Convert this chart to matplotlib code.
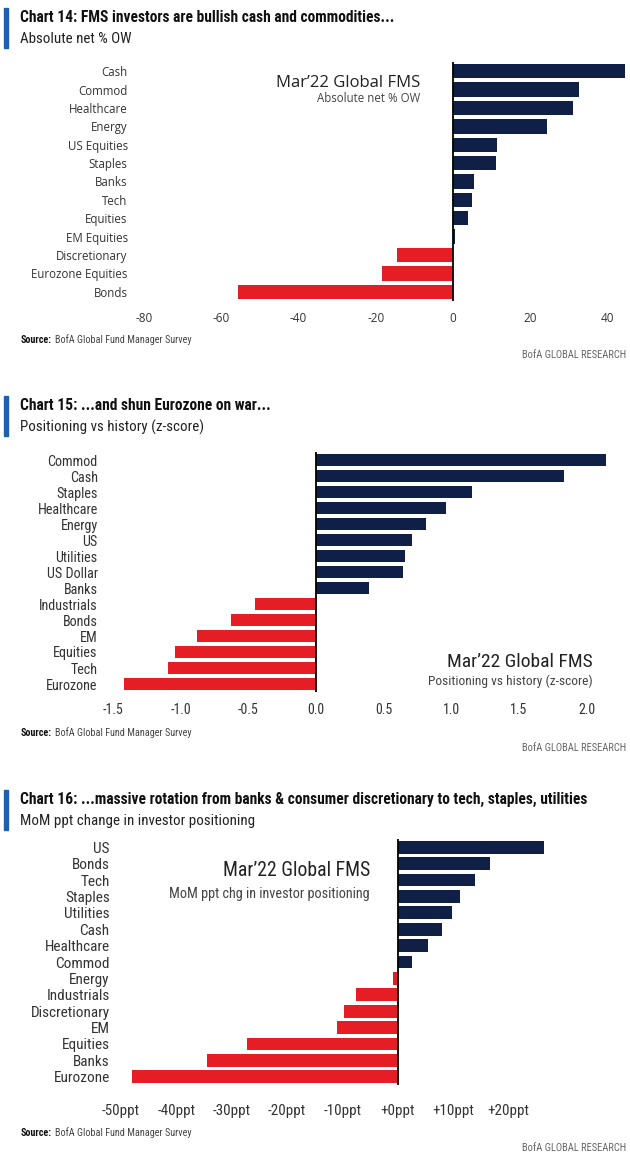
import numpy as np
import matplotlib
matplotlib.use("Agg")
import matplotlib.pyplot as plt
from matplotlib import font_manager

# --- data -------------------------------------------------------------
cats14 = ["Cash", "Commod", "Healthcare", "Energy", "US Equities", "Staples", "Banks",
          "Tech", "Equities", "EM Equities", "Discretionary", "Eurozone Equities", "Bonds"]
vals14 = [44.5, 32.7, 31.1, 24.3, 11.5, 11.0, 5.5, 4.9, 3.8, 0.5, -14.5, -18.4, -55.7]
ticks14 = [-80, -60, -40, -20, 0, 20, 40]

cats15 = ["Commod", "Cash", "Staples", "Healthcare", "Energy", "US", "Utilities", "US Dollar",
          "Banks", "Industrials", "Bonds", "EM", "Equities", "Tech", "Eurozone"]
vals15 = [2.14, 1.83, 1.15, 0.96, 0.81, 0.71, 0.66, 0.64, 0.39,
          -0.45, -0.63, -0.88, -1.04, -1.09, -1.42]
ticks15 = [-1.5, -1.0, -0.5, 0.0, 0.5, 1.0, 1.5, 2.0]

cats16 = ["US", "Bonds", "Tech", "Staples", "Utilities", "Cash", "Healthcare", "Commod",
          "Energy", "Industrials", "Discretionary", "EM", "Equities", "Banks", "Eurozone"]
vals16 = [26.4, 16.6, 13.9, 11.2, 9.8, 8.0, 5.5, 2.5, -0.9, -7.5, -9.7, -10.9, -27.2, -34.4, -48.0]
ticks16 = [-50, -40, -30, -20, -10, 0, 10, 20]

NAVY = "#0f1f45"
RED = "#e51d25"
BLUE = "#1f5fae"
TXT = "#333333"

W, H = 630, 1168


def pick(*names):
    avail = {f.name for f in font_manager.fontManager.ttflist}
    for n in names:
        if n in avail:
            return n
    return "DejaVu Sans"


NARROW = pick("Liberation Sans Narrow", "Roboto Condensed", "Open Sans Condensed", "Liberation Sans")
OPEN = pick("Open Sans", "Noto Sans", "DejaVu Sans")

fig = plt.figure(figsize=(W / 100, H / 100), dpi=100)
fig.patch.set_facecolor("white")


def px_axes(left, top, right, bottom):
    return fig.add_axes([left / W, 1 - bottom / H, (right - left) / W, (bottom - top) / H])


def ftext(x, y, s, **kw):
    fig.text(x / W, 1 - y / H, s, **kw)


def header(y0, title, sub):
    fig.patches.append(plt.Rectangle((4 / W, 1 - (y0 + 40) / H), 4 / W, 40 / H,
                                     transform=fig.transFigure, color=BLUE))
    ftext(20, y0 + 9, title, fontsize=11.2, fontweight="bold", family=NARROW, color="#111111", va="center")
    ftext(20, y0 + 31, sub, fontsize=10.8, family=NARROW, color="#222222", va="center")


def footer(y0):
    ftext(21, y0, "Source:", fontsize=7.3, fontweight="bold", family=NARROW, color="#111111", va="center")
    ftext(55, y0, "BofA Global Fund Manager Survey", fontsize=7.3, family=NARROW, color="#444444", va="center")
    ftext(626, y0 + 15, "BofA GLOBAL RESEARCH", fontsize=7.6, family=NARROW, color="#666666",
          va="center", ha="right")


def bars(ax, cats, vals, xlim, ticks, tlabels, fam, fs, tfs, tpad):
    y = np.arange(len(cats))
    cols = [NAVY if v >= 0 else RED for v in vals]
    ax.barh(y, vals, height=0.78, color=cols, zorder=2)
    ax.axvline(0, color="black", lw=1.3, zorder=3)
    ax.set_xlim(*xlim)
    ax.set_ylim(len(cats) - 0.5, -0.5)
    ax.set_yticks(y)
    ax.set_yticklabels(cats, family=fam, fontsize=fs, color=TXT)
    ax.set_xticks(ticks)
    ax.set_xticklabels(tlabels, family=fam, fontsize=tfs, color=TXT)
    ax.tick_params(length=0, axis="y", pad=6)
    ax.tick_params(length=0, axis="x", pad=tpad)
    for s in ax.spines.values():
        s.set_visible(False)


# --- Chart 14 ---------------------------------------------------------
header(8, "Chart 14: FMS investors are bullish cash and commodities...", "Absolute net % OW")
ax1 = px_axes(136, 62, 627, 301)
bars(ax1, cats14, vals14, (-82, 45), ticks14, [str(t) for t in ticks14], OPEN, 8.3, 8.5, 8)
ftext(420, 83, "Mar\u201922 Global FMS", fontsize=12, family=OPEN, color="#222222", ha="right", va="center")
ftext(420, 99, "Absolute net % OW", fontsize=8.3, family=OPEN, color="#444444", ha="right", va="center")
footer(340)

# --- Chart 15 ---------------------------------------------------------
header(396, "Chart 15: ...and shun Eurozone on war...", "Positioning vs history (z-score)")
ax2 = px_axes(106, 452, 607, 692)
bars(ax2, cats15, vals15, (-1.55, 2.15), ticks15, [f"{t:.1f}" for t in ticks15], NARROW, 10.2, 10, 8)
ftext(593, 662, "Mar\u201922 Global FMS", fontsize=14, family=NARROW, color="#222222", ha="right", va="center")
ftext(593, 681, "Positioning vs history (z-score)", fontsize=9.6, family=NARROW, color="#444444",
      ha="right", va="center")
footer(733)

# --- Chart 16 ---------------------------------------------------------
header(790, "Chart 16: ...massive rotation from banks & consumer discretionary to tech, staples, utilities",
       "MoM ppt change in investor positioning")
ax3 = px_axes(118, 839, 553, 1085)
bars(ax3, cats16, vals16, (-50.5, 28), ticks16,
     [f"{t:+d}ppt" if t >= 0 else f"{t}ppt" for t in ticks16], NARROW, 11, 10.8, 14)
ftext(370, 871, "Mar\u201922 Global FMS", fontsize=14.2, family=NARROW, color="#222222", ha="right", va="center")
ftext(370, 894, "MoM ppt chg in investor positioning", fontsize=10.3, family=NARROW, color="#444444",
      ha="right", va="center")
footer(1133)

fig.savefig("out.png", dpi=100, facecolor="white")
